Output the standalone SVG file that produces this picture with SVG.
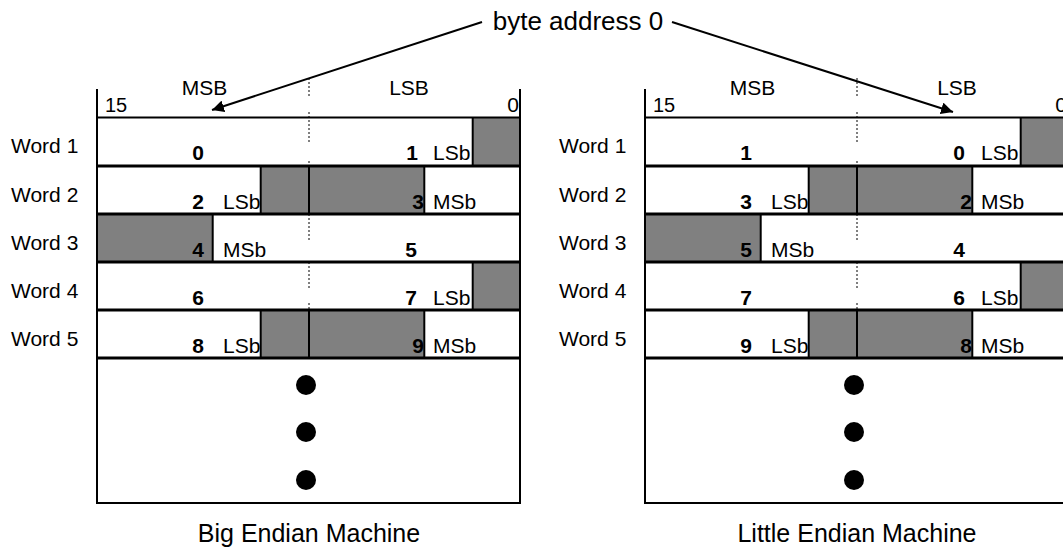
<svg xmlns="http://www.w3.org/2000/svg" width="1063" height="552" viewBox="0 0 1063 552">
<defs>
<style>
text{font-family:"Liberation Sans",Arial,Helvetica,sans-serif;fill:#000}
.lbl{font-size:21px}
.num{font-size:21px;font-weight:bold;text-anchor:end}
.ttl{font-size:25px;text-anchor:middle}
.mid{text-anchor:middle}
.gray{fill:#808080;stroke:none}
.dot{stroke:#000;stroke-width:1;stroke-dasharray:2,2;fill:none}
.sep{stroke:#000;stroke-width:3}
.brd{stroke:#000;stroke-width:2;fill:none}
.conn{stroke:#000;stroke-width:2;fill:none}
</style>
<marker id="ah" viewBox="0 0 10 10" refX="10" refY="5" markerWidth="6" markerHeight="6" markerUnits="strokeWidth" orient="auto">
<path d="M0,0 L10,5 L0,10 z" fill="#000"/>
</marker>
<g id="machine">
<rect x="0" y="117.5" width="423" height="385.5" fill="#fff"/>
<rect class="gray" x="375.7" y="117.5" width="47.3" height="48.5"/>
<rect class="gray" x="163.7" y="166" width="163.6" height="48"/>
<rect class="gray" x="0" y="214" width="115.7" height="48"/>
<rect class="gray" x="375.7" y="262" width="47.3" height="48"/>
<rect class="gray" x="163.7" y="310" width="163.6" height="48"/>
<line class="dot" x1="212" y1="78" x2="212" y2="97"/>
<line class="dot" x1="212" y1="112" x2="212" y2="143"/>
<line class="dot" x1="212" y1="161" x2="212" y2="166"/>
<line class="dot" x1="212" y1="214" x2="212" y2="240"/>
<line class="dot" x1="212" y1="262" x2="212" y2="290"/>
<line class="dot" x1="212" y1="303" x2="212" y2="310"/>
<line class="brd" x1="212" y1="166" x2="212" y2="214"/>
<line class="brd" x1="212" y1="310" x2="212" y2="358"/>
<line class="brd" x1="375.7" y1="117.5" x2="375.7" y2="166"/>
<line class="brd" x1="163.7" y1="166" x2="163.7" y2="214"/>
<line class="brd" x1="327.3" y1="166" x2="327.3" y2="214"/>
<line class="brd" x1="115.7" y1="214" x2="115.7" y2="262"/>
<line class="brd" x1="375.7" y1="262" x2="375.7" y2="310"/>
<line class="brd" x1="163.7" y1="310" x2="163.7" y2="358"/>
<line class="brd" x1="327.3" y1="310" x2="327.3" y2="358"/>
<line class="brd" x1="0" y1="117.5" x2="423" y2="117.5"/>
<line class="sep" x1="0" y1="166" x2="423" y2="166"/>
<line class="sep" x1="0" y1="214" x2="423" y2="214"/>
<line class="sep" x1="0" y1="262" x2="423" y2="262"/>
<line class="sep" x1="0" y1="310" x2="423" y2="310"/>
<line class="sep" x1="0" y1="358" x2="423" y2="358"/>
<path class="brd" d="M0,89 V503 H423 V89"/>
<circle cx="209" cy="385" r="10" fill="#000"/>
<circle cx="209" cy="432" r="10" fill="#000"/>
<circle cx="209" cy="480" r="10" fill="#000"/>
<text class="lbl mid" x="107.5" y="95">MSB</text>
<text class="lbl mid" x="312" y="95">LSB</text>
<text x="8" y="112" font-size="20">15</text>
<text class="lbl" x="422" y="112" text-anchor="end">0</text>
</g>
</defs>

<g id="big-endian-machine">
<use href="#machine" x="97" y="0"/>
</g>
<g id="little-endian-machine">
<use href="#machine" x="645" y="0"/>
</g>

<g id="word-labels-left">
<text class="lbl" x="11" y="153">Word 1</text>
<text class="lbl" x="11" y="202">Word 2</text>
<text class="lbl" x="11" y="250">Word 3</text>
<text class="lbl" x="11" y="298">Word 4</text>
<text class="lbl" x="11" y="346">Word 5</text>
</g>
<g id="word-labels-right">
<text class="lbl" x="559" y="153">Word 1</text>
<text class="lbl" x="559" y="202">Word 2</text>
<text class="lbl" x="559" y="250">Word 3</text>
<text class="lbl" x="559" y="298">Word 4</text>
<text class="lbl" x="559" y="346">Word 5</text>
</g>

<g id="big-endian-bytes">
<g id="be-word1"><text class="num" x="204" y="160">0</text><text class="num" x="418" y="160">1</text><text class="lbl" x="433" y="160">LSb</text></g>
<g id="be-word2"><text class="num" x="204" y="208.5">2</text><text class="lbl" x="223" y="208.5">LSb</text><text class="num" x="424" y="208.5">3</text><text class="lbl" x="433" y="208.5">MSb</text></g>
<g id="be-word3"><text class="num" x="204" y="256.5">4</text><text class="lbl" x="223" y="256.5">MSb</text><text class="num" x="417" y="256.5">5</text></g>
<g id="be-word4"><text class="num" x="204" y="304.5">6</text><text class="num" x="417" y="304.5">7</text><text class="lbl" x="433" y="304.5">LSb</text></g>
<g id="be-word5"><text class="num" x="204" y="352.5">8</text><text class="lbl" x="223" y="352.5">LSb</text><text class="num" x="424" y="352.5">9</text><text class="lbl" x="433" y="352.5">MSb</text></g>
</g>

<g id="little-endian-bytes">
<g id="le-word1"><text class="num" x="752" y="160">1</text><text class="num" x="965" y="160">0</text><text class="lbl" x="981" y="160">LSb</text></g>
<g id="le-word2"><text class="num" x="752" y="208.5">3</text><text class="lbl" x="771" y="208.5">LSb</text><text class="num" x="972" y="208.5">2</text><text class="lbl" x="981" y="208.5">MSb</text></g>
<g id="le-word3"><text class="num" x="752" y="256.5">5</text><text class="lbl" x="771" y="256.5">MSb</text><text class="num" x="965" y="256.5">4</text></g>
<g id="le-word4"><text class="num" x="752" y="304.5">7</text><text class="num" x="965" y="304.5">6</text><text class="lbl" x="981" y="304.5">LSb</text></g>
<g id="le-word5"><text class="num" x="752" y="352.5">9</text><text class="lbl" x="771" y="352.5">LSb</text><text class="num" x="972" y="352.5">8</text><text class="lbl" x="981" y="352.5">MSb</text></g>
</g>

<g id="byte-address-label">
<text x="578" y="30" font-size="26" text-anchor="middle">byte address 0</text>
</g>

<g id="connectors">
<line class="conn" x1="482" y1="22" x2="212" y2="110" marker-end="url(#ah)"/>
<line class="conn" x1="672" y1="22" x2="953" y2="112" marker-end="url(#ah)"/>
</g>

<g id="titles">
<text class="ttl" x="309" y="542">Big Endian Machine</text>
<text class="ttl" x="857" y="542">Little Endian Machine</text>
</g>
</svg>
